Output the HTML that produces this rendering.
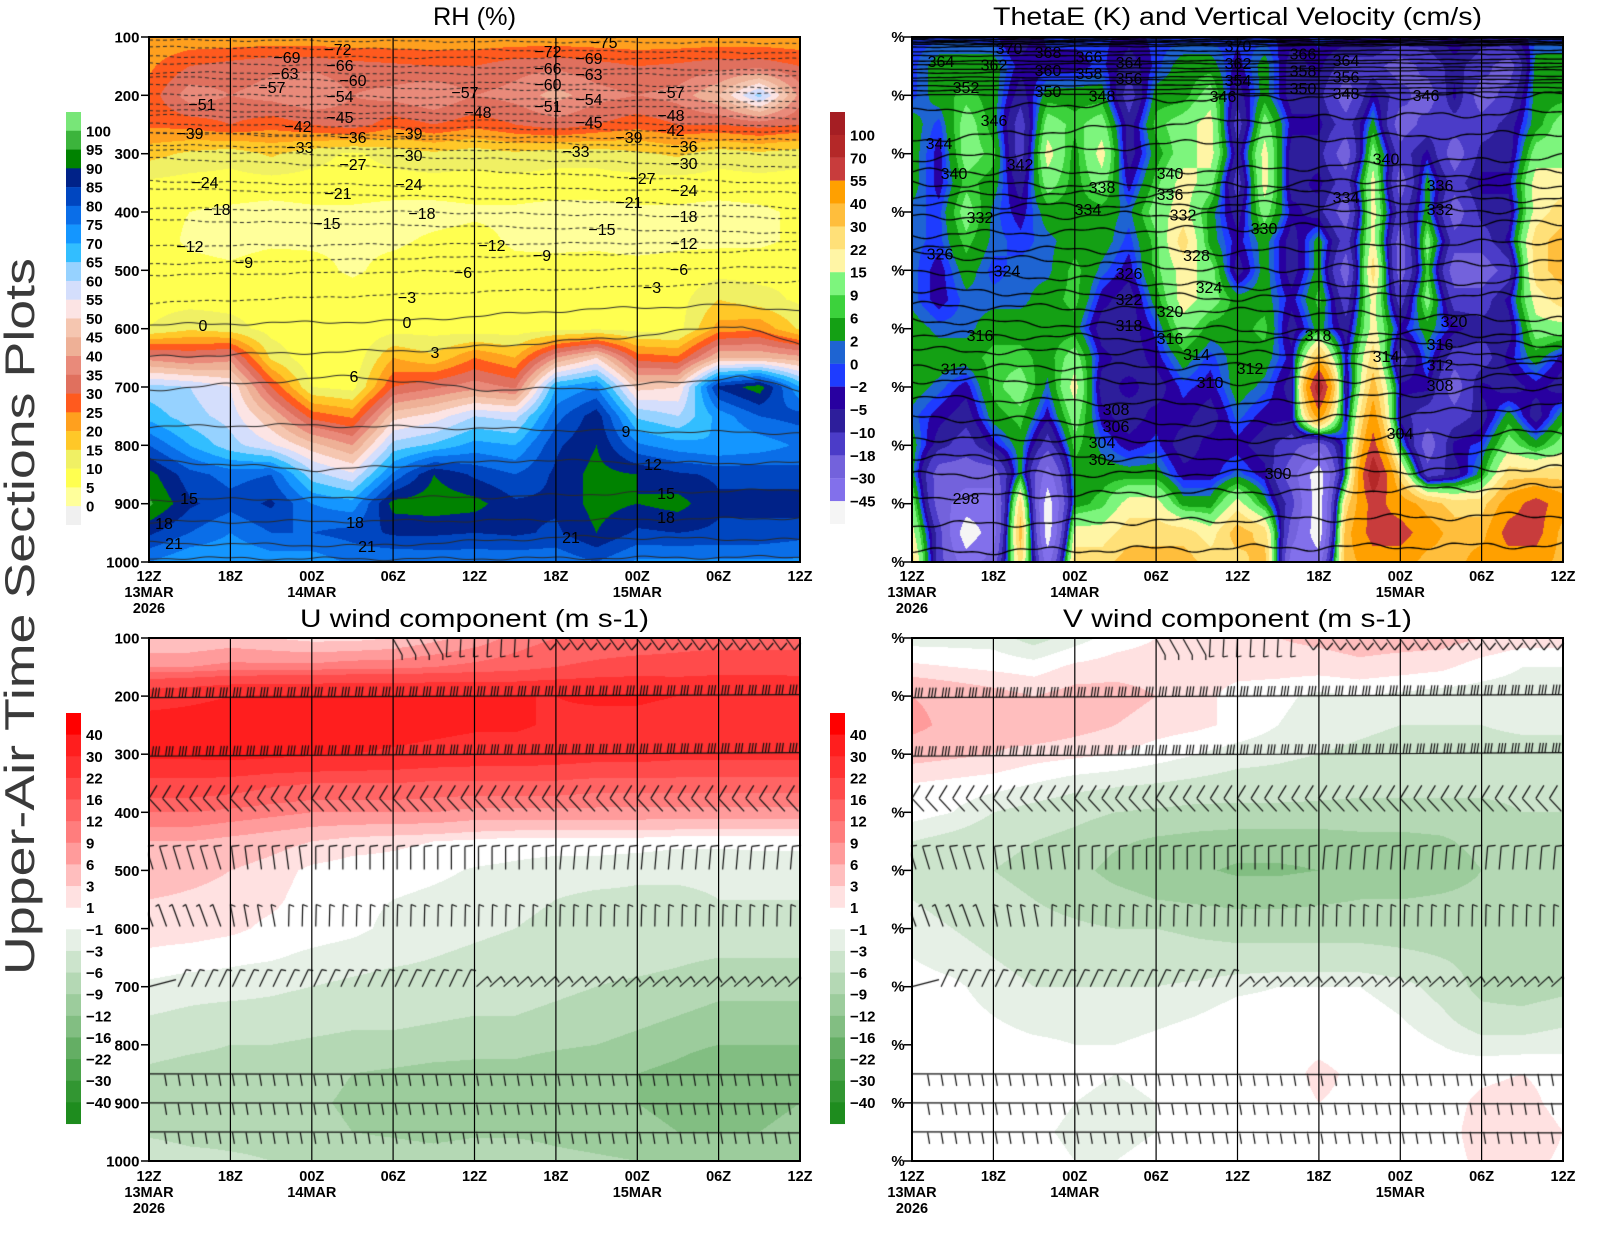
<!DOCTYPE html>
<html><head><meta charset="utf-8">
<style>
html,body{margin:0;padding:0;background:#fff;}
#wrap{position:relative;width:1600px;height:1236px;overflow:hidden;background:#fff;}
#wrap svg,#wrap canvas{position:absolute;left:0;top:0;}
text{font-family:"Liberation Sans",Arial,sans-serif;}
.ax{font-size:15px;font-weight:bold;fill:#000;}
.tl{font-size:14.5px;font-weight:bold;fill:#000;text-anchor:middle;}
.cb{font-size:15px;font-weight:bold;fill:#000;}
.cl{font-size:16px;fill:#000;text-anchor:middle;}
.ti{font-size:25px;fill:#000;text-anchor:middle;}
</style></head><body>
<div id="wrap">
<svg width="1600" height="1236">
<rect x="149" y="37" width="651" height="25" fill="#ffa01e"/>
<rect x="149" y="62" width="651" height="60" fill="#e98a7a"/>
<rect x="149" y="122" width="651" height="30" fill="#ffa01e"/>
<rect x="149" y="152" width="651" height="170" fill="#ffff70"/>
<rect x="149" y="322" width="651" height="40" fill="#ff8040"/>
<rect x="149" y="362" width="651" height="40" fill="#f0c0c0"/>
<rect x="149" y="402" width="651" height="160" fill="#0a6ee8"/>
<rect x="912" y="37" width="651" height="455" fill="#1e64d2"/>
<rect x="912" y="492" width="651" height="70" fill="#ffe078"/>
<rect x="149" y="638" width="651" height="60" fill="#ff7d7d"/>
<rect x="149" y="698" width="651" height="100" fill="#ff1e1e"/>
<rect x="149" y="798" width="651" height="82" fill="#ff9b9b"/>
<rect x="149" y="970" width="651" height="191" fill="#b4d8b4"/>
<rect x="912" y="638" width="651" height="122" fill="#ffe1e1"/>
<rect x="912" y="760" width="651" height="240" fill="#b4d8b4"/>
</svg>
<canvas id="cv" width="1600" height="1236"></canvas>
<svg width="1600" height="1236">
<text class="ti" x="474.5" y="25" textLength="83" lengthAdjust="spacingAndGlyphs">RH (%)</text>
<text class="ti" x="1237.5" y="25" textLength="489" lengthAdjust="spacingAndGlyphs">ThetaE (K) and Vertical Velocity (cm/s)</text>
<text class="ti" x="474.5" y="627" textLength="349" lengthAdjust="spacingAndGlyphs">U wind component (m s-1)</text>
<text class="ti" x="1237.5" y="627" textLength="349" lengthAdjust="spacingAndGlyphs">V wind component (m s-1)</text>
<text transform="translate(34,616.5) rotate(-90)" text-anchor="middle" font-size="42" fill="#3a3a3a" textLength="717" lengthAdjust="spacingAndGlyphs">Upper-Air Time Sections Plots</text>

<g stroke="#000" stroke-width="1.2">
<line x1="230.4" y1="37" x2="230.4" y2="562"/><line x1="311.8" y1="37" x2="311.8" y2="562"/><line x1="393.1" y1="37" x2="393.1" y2="562"/><line x1="474.5" y1="37" x2="474.5" y2="562"/><line x1="555.9" y1="37" x2="555.9" y2="562"/><line x1="637.3" y1="37" x2="637.3" y2="562"/><line x1="718.6" y1="37" x2="718.6" y2="562"/>
<line x1="993.4" y1="37" x2="993.4" y2="562"/><line x1="1074.8" y1="37" x2="1074.8" y2="562"/><line x1="1156.1" y1="37" x2="1156.1" y2="562"/><line x1="1237.5" y1="37" x2="1237.5" y2="562"/><line x1="1318.9" y1="37" x2="1318.9" y2="562"/><line x1="1400.3" y1="37" x2="1400.3" y2="562"/><line x1="1481.6" y1="37" x2="1481.6" y2="562"/>
<line x1="230.4" y1="638" x2="230.4" y2="1161"/><line x1="311.8" y1="638" x2="311.8" y2="1161"/><line x1="393.1" y1="638" x2="393.1" y2="1161"/><line x1="474.5" y1="638" x2="474.5" y2="1161"/><line x1="555.9" y1="638" x2="555.9" y2="1161"/><line x1="637.3" y1="638" x2="637.3" y2="1161"/><line x1="718.6" y1="638" x2="718.6" y2="1161"/>
<line x1="993.4" y1="638" x2="993.4" y2="1161"/><line x1="1074.8" y1="638" x2="1074.8" y2="1161"/><line x1="1156.1" y1="638" x2="1156.1" y2="1161"/><line x1="1237.5" y1="638" x2="1237.5" y2="1161"/><line x1="1318.9" y1="638" x2="1318.9" y2="1161"/><line x1="1400.3" y1="638" x2="1400.3" y2="1161"/><line x1="1481.6" y1="638" x2="1481.6" y2="1161"/>
</g>
<g fill="none" stroke="#000" stroke-width="2">
<rect x="149" y="37" width="651" height="525"/>
<rect x="912" y="37" width="651" height="525"/>
<rect x="149" y="638" width="651" height="523"/>
<rect x="912" y="638" width="651" height="523"/>
</g>
<g stroke="#000" stroke-width="1.5">
<line x1="141" y1="37" x2="149" y2="37"/><line x1="141" y1="95.3" x2="149" y2="95.3"/><line x1="141" y1="153.7" x2="149" y2="153.7"/><line x1="141" y1="212" x2="149" y2="212"/><line x1="141" y1="270.3" x2="149" y2="270.3"/><line x1="141" y1="328.7" x2="149" y2="328.7"/><line x1="141" y1="387" x2="149" y2="387"/><line x1="141" y1="445.3" x2="149" y2="445.3"/><line x1="141" y1="503.7" x2="149" y2="503.7"/><line x1="141" y1="562" x2="149" y2="562"/>
<line x1="904" y1="37" x2="912" y2="37"/><line x1="904" y1="95.3" x2="912" y2="95.3"/><line x1="904" y1="153.7" x2="912" y2="153.7"/><line x1="904" y1="212" x2="912" y2="212"/><line x1="904" y1="270.3" x2="912" y2="270.3"/><line x1="904" y1="328.7" x2="912" y2="328.7"/><line x1="904" y1="387" x2="912" y2="387"/><line x1="904" y1="445.3" x2="912" y2="445.3"/><line x1="904" y1="503.7" x2="912" y2="503.7"/><line x1="904" y1="562" x2="912" y2="562"/>
<line x1="141" y1="638" x2="149" y2="638"/><line x1="141" y1="696.1" x2="149" y2="696.1"/><line x1="141" y1="754.2" x2="149" y2="754.2"/><line x1="141" y1="812.3" x2="149" y2="812.3"/><line x1="141" y1="870.4" x2="149" y2="870.4"/><line x1="141" y1="928.6" x2="149" y2="928.6"/><line x1="141" y1="986.7" x2="149" y2="986.7"/><line x1="141" y1="1044.8" x2="149" y2="1044.8"/><line x1="141" y1="1102.9" x2="149" y2="1102.9"/><line x1="141" y1="1161" x2="149" y2="1161"/>
<line x1="904" y1="638" x2="912" y2="638"/><line x1="904" y1="696.1" x2="912" y2="696.1"/><line x1="904" y1="754.2" x2="912" y2="754.2"/><line x1="904" y1="812.3" x2="912" y2="812.3"/><line x1="904" y1="870.4" x2="912" y2="870.4"/><line x1="904" y1="928.6" x2="912" y2="928.6"/><line x1="904" y1="986.7" x2="912" y2="986.7"/><line x1="904" y1="1044.8" x2="912" y2="1044.8"/><line x1="904" y1="1102.9" x2="912" y2="1102.9"/><line x1="904" y1="1161" x2="912" y2="1161"/>
</g>
<g class="ax" text-anchor="end">
<text x="139.5" y="42.5">100</text><text x="139.5" y="100.8">200</text><text x="139.5" y="159.2">300</text><text x="139.5" y="217.5">400</text><text x="139.5" y="275.8">500</text><text x="139.5" y="334.2">600</text><text x="139.5" y="392.5">700</text><text x="139.5" y="450.8">800</text><text x="139.5" y="509.2">900</text><text x="139.5" y="567.5">1000</text>
<text x="139.5" y="643.5">100</text><text x="139.5" y="701.6">200</text><text x="139.5" y="759.7">300</text><text x="139.5" y="817.8">400</text><text x="139.5" y="875.9">500</text><text x="139.5" y="934.1">600</text><text x="139.5" y="992.2">700</text><text x="139.5" y="1050.3">800</text><text x="139.5" y="1108.4">900</text><text x="139.5" y="1166.5">1000</text>
</g>
<g class="ax" text-anchor="middle" font-size="13">
<text x="898" y="42">%</text><text x="898" y="100.3">%</text><text x="898" y="158.7">%</text><text x="898" y="217">%</text><text x="898" y="275.3">%</text><text x="898" y="333.7">%</text><text x="898" y="392">%</text><text x="898" y="450.3">%</text><text x="898" y="508.7">%</text><text x="898" y="567">%</text>
<text x="898" y="643">%</text><text x="898" y="701.1">%</text><text x="898" y="759.2">%</text><text x="898" y="817.3">%</text><text x="898" y="875.4">%</text><text x="898" y="933.6">%</text><text x="898" y="991.7">%</text><text x="898" y="1049.8">%</text><text x="898" y="1107.9">%</text><text x="898" y="1166">%</text>
</g>
<g class="tl">
<text x="149" y="581">12Z</text><text x="230.4" y="581">18Z</text><text x="311.8" y="581">00Z</text><text x="393.1" y="581">06Z</text><text x="474.5" y="581">12Z</text><text x="555.9" y="581">18Z</text><text x="637.3" y="581">00Z</text><text x="718.6" y="581">06Z</text><text x="800" y="581">12Z</text>
<text x="149" y="597">13MAR</text><text x="149" y="613">2026</text><text x="311.8" y="597">14MAR</text><text x="637.3" y="597">15MAR</text>
<text x="912" y="581">12Z</text><text x="993.4" y="581">18Z</text><text x="1074.8" y="581">00Z</text><text x="1156.1" y="581">06Z</text><text x="1237.5" y="581">12Z</text><text x="1318.9" y="581">18Z</text><text x="1400.3" y="581">00Z</text><text x="1481.6" y="581">06Z</text><text x="1563" y="581">12Z</text>
<text x="912" y="597">13MAR</text><text x="912" y="613">2026</text><text x="1074.8" y="597">14MAR</text><text x="1400.3" y="597">15MAR</text>
<text x="149" y="1181">12Z</text><text x="230.4" y="1181">18Z</text><text x="311.8" y="1181">00Z</text><text x="393.1" y="1181">06Z</text><text x="474.5" y="1181">12Z</text><text x="555.9" y="1181">18Z</text><text x="637.3" y="1181">00Z</text><text x="718.6" y="1181">06Z</text><text x="800" y="1181">12Z</text>
<text x="149" y="1197">13MAR</text><text x="149" y="1213">2026</text><text x="311.8" y="1197">14MAR</text><text x="637.3" y="1197">15MAR</text>
<text x="912" y="1181">12Z</text><text x="993.4" y="1181">18Z</text><text x="1074.8" y="1181">00Z</text><text x="1156.1" y="1181">06Z</text><text x="1237.5" y="1181">12Z</text><text x="1318.9" y="1181">18Z</text><text x="1400.3" y="1181">00Z</text><text x="1481.6" y="1181">06Z</text><text x="1563" y="1181">12Z</text>
<text x="912" y="1197">13MAR</text><text x="912" y="1213">2026</text><text x="1074.8" y="1197">14MAR</text><text x="1400.3" y="1197">15MAR</text>
</g>

<g>
<rect x="66" y="112" width="15" height="19" fill="#78e678"/>
<rect x="66" y="130.77" width="15" height="19" fill="#3cb43c"/>
<rect x="66" y="149.54" width="15" height="19" fill="#008200"/>
<rect x="66" y="168.31" width="15" height="19" fill="#002288"/>
<rect x="66" y="187.08" width="15" height="19" fill="#0046c0"/>
<rect x="66" y="205.85" width="15" height="19" fill="#0a6ee8"/>
<rect x="66" y="224.62" width="15" height="19" fill="#1496ff"/>
<rect x="66" y="243.39" width="15" height="19" fill="#32beff"/>
<rect x="66" y="262.16" width="15" height="19" fill="#96d2ff"/>
<rect x="66" y="280.93" width="15" height="19" fill="#d4defc"/>
<rect x="66" y="299.7" width="15" height="19" fill="#fce4e4"/>
<rect x="66" y="318.47" width="15" height="19" fill="#f5c6b0"/>
<rect x="66" y="337.24" width="15" height="19" fill="#eeb096"/>
<rect x="66" y="356.01" width="15" height="19" fill="#e98a7a"/>
<rect x="66" y="374.78" width="15" height="19" fill="#e0705e"/>
<rect x="66" y="393.55" width="15" height="19" fill="#ff5a1e"/>
<rect x="66" y="412.32" width="15" height="19" fill="#ffa01e"/>
<rect x="66" y="431.09" width="15" height="19" fill="#ffc828"/>
<rect x="66" y="449.86" width="15" height="19" fill="#f0f064"/>
<rect x="66" y="468.63" width="15" height="19" fill="#ffff50"/>
<rect x="66" y="487.4" width="15" height="19" fill="#ffff9b"/>
<rect x="66" y="506.17" width="15" height="18.8" fill="#f0f0f0"/>
</g>
<g class="cb">
<text x="86" y="136.3">100</text><text x="86" y="155">95</text><text x="86" y="173.8">90</text><text x="86" y="192.6">85</text><text x="86" y="211.4">80</text><text x="86" y="230.1">75</text><text x="86" y="248.9">70</text><text x="86" y="267.7">65</text><text x="86" y="286.4">60</text><text x="86" y="305.2">55</text><text x="86" y="324">50</text><text x="86" y="342.7">45</text><text x="86" y="361.5">40</text><text x="86" y="380.3">35</text><text x="86" y="399.1">30</text><text x="86" y="417.8">25</text><text x="86" y="436.6">20</text><text x="86" y="455.4">15</text><text x="86" y="474.1">10</text><text x="86" y="492.9">5</text><text x="86" y="511.7">0</text>
</g>

<g>
<rect x="830" y="112" width="15" height="23" fill="#a51e23"/>
<rect x="830" y="134.89" width="15" height="23" fill="#b42828"/>
<rect x="830" y="157.78" width="15" height="23" fill="#c83c3c"/>
<rect x="830" y="180.67" width="15" height="23" fill="#ffa000"/>
<rect x="830" y="203.56" width="15" height="23" fill="#ffbe3c"/>
<rect x="830" y="226.45" width="15" height="23" fill="#ffe078"/>
<rect x="830" y="249.34" width="15" height="23" fill="#fff5a5"/>
<rect x="830" y="272.23" width="15" height="23" fill="#7df57d"/>
<rect x="830" y="295.12" width="15" height="23" fill="#3cd23c"/>
<rect x="830" y="318.01" width="15" height="23" fill="#14a014"/>
<rect x="830" y="340.9" width="15" height="23" fill="#1e64d2"/>
<rect x="830" y="363.79" width="15" height="23" fill="#1e3cff"/>
<rect x="830" y="386.68" width="15" height="23" fill="#2800a0"/>
<rect x="830" y="409.57" width="15" height="23" fill="#2d1e9b"/>
<rect x="830" y="432.46" width="15" height="23" fill="#4b3cc8"/>
<rect x="830" y="455.35" width="15" height="23" fill="#7362dc"/>
<rect x="830" y="478.24" width="15" height="23" fill="#8270eb"/>
<rect x="830" y="501.13" width="15" height="22.9" fill="#f5f5f5"/>
</g>
<g class="cb">
<text x="850" y="140.4">100</text><text x="850" y="163.3">70</text><text x="850" y="186.2">55</text><text x="850" y="209.1">40</text><text x="850" y="232">30</text><text x="850" y="254.8">22</text><text x="850" y="277.7">15</text><text x="850" y="300.6">9</text><text x="850" y="323.5">6</text><text x="850" y="346.4">2</text><text x="850" y="369.3">0</text><text x="850" y="392.2">−2</text><text x="850" y="415.1">−5</text><text x="850" y="438">−10</text><text x="850" y="460.9">−18</text><text x="850" y="483.7">−30</text><text x="850" y="506.6">−45</text>
</g>

<g>
<rect x="66" y="713" width="15" height="22" fill="#ff0000"/>
<rect x="66" y="734.63" width="15" height="22" fill="#ff1e1e"/>
<rect x="66" y="756.26" width="15" height="22" fill="#ff3232"/>
<rect x="66" y="777.89" width="15" height="22" fill="#ff4b4b"/>
<rect x="66" y="799.52" width="15" height="22" fill="#ff6464"/>
<rect x="66" y="821.15" width="15" height="22" fill="#ff7d7d"/>
<rect x="66" y="842.78" width="15" height="22" fill="#ff9b9b"/>
<rect x="66" y="864.41" width="15" height="22" fill="#ffbebe"/>
<rect x="66" y="886.04" width="15" height="21.7" fill="#ffe1e1"/>
<rect x="66" y="929.3" width="15" height="22" fill="#e6f0e6"/>
<rect x="66" y="950.93" width="15" height="22" fill="#cce4cc"/>
<rect x="66" y="972.56" width="15" height="22" fill="#b4d8b4"/>
<rect x="66" y="994.19" width="15" height="22" fill="#9ccc9c"/>
<rect x="66" y="1015.82" width="15" height="22" fill="#82be82"/>
<rect x="66" y="1037.45" width="15" height="22" fill="#64ae64"/>
<rect x="66" y="1059.08" width="15" height="22" fill="#4ba34b"/>
<rect x="66" y="1080.71" width="15" height="22" fill="#329632"/>
<rect x="66" y="1102.34" width="15" height="21.7" fill="#1e8c1e"/>
</g>
<g>
<rect x="830" y="713" width="15" height="22" fill="#ff0000"/>
<rect x="830" y="734.63" width="15" height="22" fill="#ff1e1e"/>
<rect x="830" y="756.26" width="15" height="22" fill="#ff3232"/>
<rect x="830" y="777.89" width="15" height="22" fill="#ff4b4b"/>
<rect x="830" y="799.52" width="15" height="22" fill="#ff6464"/>
<rect x="830" y="821.15" width="15" height="22" fill="#ff7d7d"/>
<rect x="830" y="842.78" width="15" height="22" fill="#ff9b9b"/>
<rect x="830" y="864.41" width="15" height="22" fill="#ffbebe"/>
<rect x="830" y="886.04" width="15" height="21.7" fill="#ffe1e1"/>
<rect x="830" y="929.3" width="15" height="22" fill="#e6f0e6"/>
<rect x="830" y="950.93" width="15" height="22" fill="#cce4cc"/>
<rect x="830" y="972.56" width="15" height="22" fill="#b4d8b4"/>
<rect x="830" y="994.19" width="15" height="22" fill="#9ccc9c"/>
<rect x="830" y="1015.82" width="15" height="22" fill="#82be82"/>
<rect x="830" y="1037.45" width="15" height="22" fill="#64ae64"/>
<rect x="830" y="1059.08" width="15" height="22" fill="#4ba34b"/>
<rect x="830" y="1080.71" width="15" height="22" fill="#329632"/>
<rect x="830" y="1102.34" width="15" height="21.7" fill="#1e8c1e"/>
</g>
<g class="cb">
<text x="86" y="740.1">40</text><text x="86" y="761.8">30</text><text x="86" y="783.4">22</text><text x="86" y="805">16</text><text x="86" y="826.7">12</text><text x="86" y="848.3">9</text><text x="86" y="869.9">6</text><text x="86" y="891.5">3</text><text x="86" y="913.2">1</text><text x="86" y="934.8">−1</text><text x="86" y="956.4">−3</text><text x="86" y="978.1">−6</text><text x="86" y="999.7">−9</text><text x="86" y="1021.3">−12</text><text x="86" y="1043">−16</text><text x="86" y="1064.6">−22</text><text x="86" y="1086.2">−30</text><text x="86" y="1107.8">−40</text>
<text x="850" y="740.1">40</text><text x="850" y="761.8">30</text><text x="850" y="783.4">22</text><text x="850" y="805">16</text><text x="850" y="826.7">12</text><text x="850" y="848.3">9</text><text x="850" y="869.9">6</text><text x="850" y="891.5">3</text><text x="850" y="913.2">1</text><text x="850" y="934.8">−1</text><text x="850" y="956.4">−3</text><text x="850" y="978.1">−6</text><text x="850" y="999.7">−9</text><text x="850" y="1021.3">−12</text><text x="850" y="1043">−16</text><text x="850" y="1064.6">−22</text><text x="850" y="1086.2">−30</text><text x="850" y="1107.8">−40</text>
</g>

<g class="cl">
<text x="604" y="48">−75</text><text x="338" y="55">−72</text><text x="548" y="57">−72</text><text x="287" y="63">−69</text><text x="589" y="64">−69</text><text x="340" y="71">−66</text><text x="548" y="74">−66</text><text x="285" y="79">−63</text><text x="589" y="80">−63</text><text x="353" y="86">−60</text><text x="548" y="90">−60</text><text x="272" y="93">−57</text><text x="465" y="98">−57</text><text x="671" y="98">−57</text><text x="340" y="102">−54</text><text x="589" y="105">−54</text><text x="202" y="110">−51</text><text x="548" y="112">−51</text><text x="478" y="118">−48</text><text x="671" y="121">−48</text><text x="340" y="123">−45</text><text x="589" y="128">−45</text><text x="298" y="132">−42</text><text x="671" y="136">−42</text><text x="190" y="139">−39</text><text x="409" y="139">−39</text><text x="629" y="143">−39</text><text x="353" y="143">−36</text><text x="684" y="152">−36</text><text x="300" y="153">−33</text><text x="576" y="157">−33</text><text x="409" y="161">−30</text><text x="684" y="169">−30</text><text x="353" y="170">−27</text><text x="642" y="184">−27</text><text x="205" y="188">−24</text><text x="409" y="190">−24</text><text x="684" y="196">−24</text><text x="338" y="199">−21</text><text x="629" y="208">−21</text><text x="217" y="215">−18</text><text x="422" y="219">−18</text><text x="684" y="222">−18</text><text x="327" y="229">−15</text><text x="602" y="235">−15</text><text x="190" y="252">−12</text><text x="492" y="251">−12</text><text x="684" y="249">−12</text><text x="244" y="268">−9</text><text x="542" y="261">−9</text><text x="463" y="278">−6</text><text x="679" y="275">−6</text><text x="407" y="303">−3</text><text x="652" y="293">−3</text>
<text x="203" y="331">0</text><text x="407" y="328">0</text><text x="435" y="358">3</text><text x="354" y="382">6</text><text x="626" y="437">9</text><text x="653" y="470">12</text><text x="189" y="504">15</text><text x="666" y="499">15</text><text x="164" y="529">18</text><text x="355" y="528">18</text><text x="666" y="523">18</text><text x="174" y="549">21</text><text x="367" y="552">21</text><text x="571" y="543">21</text>
</g>
<g class="cl">
<text x="941" y="67">364</text><text x="1009" y="54">370</text><text x="1048" y="58">368</text><text x="994" y="70.5">362</text><text x="1048" y="76">360</text><text x="1089" y="62.5">366</text><text x="1089" y="79">358</text><text x="1129" y="68">364</text><text x="1129" y="84">356</text><text x="966" y="93">352</text><text x="1048" y="97">350</text><text x="1102" y="101.5">348</text><text x="1223" y="102">346</text><text x="1238" y="51.5">370</text><text x="1238" y="69">362</text><text x="1238" y="86">354</text><text x="1303" y="59.4">366</text><text x="1303" y="76.7">358</text><text x="1303" y="94">350</text><text x="1346" y="66">364</text><text x="1346" y="82.5">356</text><text x="1346" y="99">348</text><text x="1426" y="101">346</text><text x="994" y="126">346</text><text x="939" y="149">344</text><text x="1020" y="170">342</text><text x="954" y="179">340</text><text x="1102" y="193">338</text><text x="1170" y="179">340</text><text x="1170" y="200">336</text><text x="1088" y="215">334</text><text x="980" y="223">332</text><text x="1183" y="220.5">332</text><text x="1264" y="234">330</text><text x="1386" y="164.6">340</text><text x="1346" y="203">334</text><text x="1440" y="191">336</text><text x="1440" y="215">332</text><text x="940" y="259.5">326</text><text x="1007" y="276.7">324</text><text x="1196.5" y="261">328</text><text x="1129" y="279">326</text><text x="1209" y="293">324</text><text x="1129" y="305">322</text><text x="1170" y="317">320</text><text x="1129" y="331">318</text><text x="980" y="341">316</text><text x="1170" y="344">316</text><text x="1196.5" y="360">314</text><text x="954" y="374.6">312</text><text x="1250" y="374">312</text><text x="1210" y="388">310</text><text x="1318" y="341">318</text><text x="1454" y="327">320</text><text x="1440" y="350">316</text><text x="1386" y="362">314</text><text x="1440" y="370.5">312</text><text x="1440" y="391">308</text><text x="1116" y="415">308</text><text x="1116" y="432">306</text><text x="1102" y="448">304</text><text x="1102" y="465">302</text><text x="1400" y="439">304</text><text x="1278" y="479">300</text><text x="966" y="504">298</text>
</g>
</svg>
</div>
<script>
(function(){
var cv=document.getElementById('cv'),ctx=cv.getContext('2d');
function hex(c){return [parseInt(c.slice(1,3),16),parseInt(c.slice(3,5),16),parseInt(c.slice(5,7),16)];}
function field(x0,y0,x1,y1,G,levels,colors){
  var w=Math.round(x1-x0),h=Math.round(y1-y0);
  var img=ctx.createImageData(w,h),d=img.data;
  var nr=G.length,nc=G[0].length,C=colors.map(hex),nl=levels.length;
  for(var j=0;j<h;j++){
    var v=(j+0.5)/h*(nr-1),r=Math.min(nr-2,Math.floor(v)),fv=v-r,A=G[r],B=G[r+1];
    for(var i=0;i<w;i++){
      var u=(i+0.5)/w*(nc-1),c=Math.min(nc-2,Math.floor(u)),fu=u-c;
      var val=(A[c]*(1-fu)+A[c+1]*fu)*(1-fv)+(B[c]*(1-fu)+B[c+1]*fu)*fv;
      var k=0;while(k<nl&&val>=levels[k])k++;
      var col=C[k],o=(j*w+i)*4;
      d[o]=col[0];d[o+1]=col[1];d[o+2]=col[2];d[o+3]=255;
    }
  }
  ctx.putImageData(img,Math.round(x0),Math.round(y0));
}
var RHL=[0,5,10,15,20,25,30,35,40,45,50,55,60,65,70,75,80,85,90,95,100];
var RHC=['#f0f0f0','#ffff9b','#ffff50','#f0f064','#ffc828','#ffa01e','#ff5a1e','#e0705e','#e98a7a','#eeb096','#f5c6b0','#fce4e4','#d4defc','#96d2ff','#32beff','#1496ff','#0a6ee8','#0046c0','#002288','#008200','#3cb43c','#78e678'];
var RH=[
[21,21,21,21,21,21,21,21,21,21,21,21,21,21,21,21,21],
[24,30,32,34,34,32,31,30,30,33,34,32,30,31,33,33,30],
[27,38,35,37,40,35,37,40,35,37,42,37,35,37,45,62,38],
[26,27,30,27,30,33,27,30,27,30,33,30,27,30,30,32,30],
[17,14,12,16,12,9,12,14,12,14,12,12,14,16,12,14,12],
[9,8,8,8,8,8,8,8,8,8,8,8,8,8,8,8,8],
[7,5,4,3,4,4,3,3,4,4,3,3,4,4,3,4,6],
[8,4,3,4,4,4,4,6,7,4,3,4,3,4,4,4,6],
[9,7,6,8,7,4,7,8,8,7,8,7,7,7,8,8,9],
[8,8,8,8,8,8,8,8,8,8,8,8,8,8,15,12,9],
[10,14,12,8,6,6,8,8,7,7,8,9,8,8,22,24,14],
[38,35,38,14,6,6,20,16,25,20,40,50,28,26,45,45,42],
[62,60,55,30,10,8,30,34,38,34,70,75,48,50,86,93,70],
[68,62,58,45,28,24,48,52,60,58,78,88,64,60,72,80,82],
[80,70,62,56,47,40,62,66,72,70,84,90,76,72,70,72,76],
[92,82,78,80,62,56,76,90,84,80,86,92,90,86,84,84,82],
[96,86,82,86,75,72,92,93,92,86,86,92,90,92,86,86,88],
[86,80,75,80,80,82,86,86,85,86,84,90,84,85,84,84,82],
[75,70,70,72,72,76,75,76,76,76,76,80,74,74,74,74,74]];
field(149,37,800,562,RH,RHL,RHC);
var TL=[-45,-30,-18,-10,-5,-2,0,2,6,9,15,22,30,40,55,70,100];
var TC=['#f5f5f5','#8270eb','#7362dc','#4b3cc8','#2d1e9b','#2800a0','#1e3cff','#1e64d2','#14a014','#3cd23c','#7df57d','#fff5a5','#ffe078','#ffbe3c','#ffa000','#c83c3c','#b42828','#a51e23'];
var MP={W:-55,L:-37,P:-24,M:-14,D:-7.5,N:-3.5,B:-1,b:1,G:4,g:7.5,l:12,y:18,Y:26,O:35,o:47,R:62,S:85,T:120};
var TS=["BBBBDBBBNBBBBBNBBBNDBDNBB","BGGGNNNBDBGGNGDNMMPMDMPGG","BGgGDGGGMGGlDGDDPNMPNPMGG","GBlGMlglDglyMlNNMGPMMMDGl","GNlgMyGyDGlyDyDDPlMNPDDll","GNgGDlGlNgylMyDNMyPGMNNyy","bBlbNGGGblyGDlNDPyMGPDDyY","bBgbBbGGBgYGNGDGMyPlMMNYO","bNGBbbgbNgylDGDGPYPgPPMYO","bNbbbGgNDGylGGNgMyMlMMNyY","GbbGGGGDDBlGGgDGDyNGNDDll","GGGggGlNDNGBGGNONYMbMMNGN","GbNglbyDNDBNGbDSDONNPNDND","bNDGgNlNDNNDbNNoNoDMMDGDG","GDMNGMgbNBDNNDMPbRGPNBlGl","GPPPGLGGGGNNbNPWGSYMDGYYY","lPLLYWGgyyGGyGMWYRoOYYoRo","yMWLOWyyYYYyOYPWORRoOORRO","YMLPYLYYOOOYYOLLOooOOoooO"];
var TG=TS.map(function(s){return s.split('').map(function(ch){return MP[ch];});});
field(912,37,1563,562,TG,TL,TC);
var WL=[-40,-30,-22,-16,-12,-9,-6,-3,-1,1,3,6,9,12,16,22,30,40];
var WC=['#1e8c1e','#329632','#4ba34b','#64ae64','#82be82','#9ccc9c','#b4d8b4','#cce4cc','#e6f0e6','#ffffff','#ffe1e1','#ffbebe','#ff9b9b','#ff7d7d','#ff6464','#ff4b4b','#ff3232','#ff1e1e','#ff0000'];
var U=[
[3,3,4,3,2,2,3,5,7,10,12,13,13,14,14,14,14],
[9,9,10,10,10,11,11,12,13,14,16,17,18,18,19,19,19],
[26,28,30,31,31,31,31,31,30,30,30,31,31,30,30,30,29],
[34,34,35,35,35,34,33,32,31,31,29,28,28,27,27,27,27],
[32,32,33,32,31,30,29,28,27,27,26,25,25,24,24,24,24],
[20,20,19,17,16,16,16,15,15,15,15,14,14,14,14,14,14],
[12,12,11,10,9,9,9,9,8,8,8,8,8,8,8,8,8],
[6,6,5,4,3,2,1.5,1,0.5,0,0,0,0,-0.5,-0.5,-0.5,-0.5],
[5,4,3,2,0.5,0,0,-0.5,-1.2,-1.5,-2,-2,-2.5,-2.5,-2.5,-2,-2],
[3,2.5,2,1.5,0,-0.5,-1,-1.5,-2,-2.5,-3,-3.5,-3.5,-3.5,-3,-3,-3],
[2,2,1.5,0.5,0,-0.5,-1.5,-2,-2.5,-3,-3.5,-4,-4,-4,-4,-4,-4],
[0.5,0,-0.5,-0.8,-1.5,-2,-2.5,-3,-3.5,-4,-4.5,-5,-5,-5.5,-6,-6,-6],
[-1.5,-2,-2,-2.5,-3,-3.5,-4,-4,-4.5,-5,-5.5,-6,-6.5,-7,-8,-8,-8],
[-3,-3.5,-4,-4,-4.5,-5,-5,-5.5,-6,-6,-6.5,-7,-8,-9,-10,-10,-10],
[-5,-5.5,-6,-6,-6.5,-7,-7,-7.5,-8,-8,-8.5,-9,-10,-11,-12,-12,-12],
[-6.5,-7,-7,-7.5,-8,-9,-9.5,-10,-10,-10,-11,-12,-12,-13,-15,-14,-13],
[-6.5,-7,-7,-7.5,-8.5,-9.5,-10,-10,-10,-10,-11,-11,-12,-13,-14,-13,-12],
[-6.5,-7,-7,-7,-8,-9,-9.5,-10,-9.5,-9.5,-10,-10.5,-11,-12,-12,-12,-11],
[-4,-5,-5.5,-6,-6.5,-7,-7,-7.5,-7,-7,-8,-8.5,-9,-10,-11,-11,-10]];
field(149,638,800,1161,U,WL,WC);
var V=[
[-2,-2,-2,-4,-2,0,1,2,2,3,3.5,4,4,4,3,2,2],
[1.5,1,0.5,0,1.5,2,2,2,2,2,2,2.5,2,1.5,0,-1,-1],
[6,5,4,3,4,4,3,2,0,-0.5,-1.5,-1,-1.5,-2,-2,-2,-2],
[7,5,4,5,4,3,2,1.5,0.5,-1,-2,-2.5,-3,-3,-3,-2.5,-2.5],
[4,3.5,3,2,1.5,1,0,-1,-2,-2.5,-3,-3.5,-4,-4,-4,-4,-4],
[1,0.5,0,-1,-2,-2.5,-3,-3.5,-4,-4,-4.5,-5,-5,-5,-5,-5,-5],
[0,-1,-3,-4,-5,-6,-6.5,-7,-7,-7,-7,-7,-7,-7,-7,-6,-6],
[-3,-4,-5,-6,-7,-8.5,-9.5,-10,-10.5,-10.5,-10.5,-10,-10,-9.5,-8,-7,-7],
[-4,-5,-6,-7,-8,-10,-11,-11.5,-12.5,-12.5,-12,-11,-12,-11,-9,-8,-7.5],
[-3,-4,-5,-6,-7,-8,-9,-9.5,-10,-10,-9.5,-9,-9,-8.5,-8,-7,-7],
[-2,-3,-4,-5,-5.5,-6,-6,-6.5,-7,-7,-7,-7,-7,-7,-6.5,-6.5,-6],
[-1,-2,-3,-4,-4,-4.5,-4.5,-5,-5,-5,-5,-5,-5.5,-6,-7,-7.5,-7],
[0,-0.5,-2,-3,-3,-3,-3,-2.5,-1.5,-1,-1,-1,-2,-4,-7,-8,-7],
[0.5,0,-1,-2,-2,-2,-1.5,-1,0,0,0,0,-1,-2.5,-5,-5,-4],
[0.5,0,0,-0.5,-1,-1,-0.5,0,0,0.5,0.5,0,0,-1,-2,-2,-1.5],
[0,0.5,0,0,-0.5,-1,-0.5,0,0,0,1.5,0.5,0,0,0.5,1,0],
[0.5,0.5,0,0,-1,-1.5,-1,0,0,0,1,0.5,0,0,1.5,2,0],
[0,0,0,-0.5,-1.5,-1.5,-1,-0.5,0,0,0.5,0,-0.5,0,2,3,1],
[0,0,0,0,-1,-1,-0.5,0,0,0,0.5,0,0,0,1.5,2,0.5]];
field(912,638,1563,1161,V,WL,WC);

function poly(anc,amp,seed,dash){
  ctx.beginPath();ctx.setLineDash(dash);
  var xs=anc[0][0],xe=anc[anc.length-1][0],first=true;
  for(var x=xs;x<=xe+0.1;x+=3){
    var k=0;while(k<anc.length-2&&x>anc[k+1][0])k++;
    var a=anc[k],b=anc[k+1];
    var y=a[1]+(b[1]-a[1])*(x-a[0])/(b[0]-a[0]);
    y+=amp*(Math.sin(x/17+seed)+0.5*Math.sin(x/6.3+seed*1.7));
    if(first){ctx.moveTo(x,y);first=false;}else ctx.lineTo(x,y);
  }
  ctx.stroke();
}
ctx.save();ctx.beginPath();ctx.rect(149,37,651,525);ctx.clip();
ctx.strokeStyle='#2a2a2a';ctx.lineWidth=1;
var dl=[[40,43],[47,53],[56.5,59],[63,71],[72.5,75],[77,88],[85,93],[94,102],[104,108],[110,118],[115,126],[124,132],[133,140],[132,150],[145,155],[150,167],[158,184],[181,193],[188,208],[208,218],[220,233],[246,242],[264,250],[275,267],[303,281]];
dl.forEach(function(d,i){poly([[149,d[0]],[800,d[1]]],0.7,i*1.3,[4,3]);});
var sl=[
[[149,325],[400,321],[573,310],[721,305],[800,310]],
[[149,357],[330,352],[429,350],[615,338],[742,325],[800,346]],
[[149,390],[352,376],[488,390],[600,388],[742,377],[800,390]],
[[149,427],[276,425],[403,427],[615,431],[800,433]],
[[149,460],[318,470],[530,460],[657,463],[800,463]],
[[149,500],[500,497],[657,492],[800,490]],
[[149,522],[400,521],[600,520],[800,518]],
[[149,543],[367,546],[571,537],[800,540]],
[[149,558],[400,559],[800,557]]];
sl.forEach(function(a,i){poly(a,1.2,i*2.1,[]);});
ctx.restore();
ctx.save();ctx.beginPath();ctx.rect(912,37,651,525);ctx.clip();
ctx.strokeStyle='#000';ctx.lineWidth=1.3;
var tl=[[38.5,38.5,38.5],[40,40,40],[41.5,41.5,41.5],[43,43,42.5],[44.5,44.5,44],[47,46,45],[51.5,51,50],[56,55,54],[61,61,59],[64.5,63.5,63],[69.5,68,67],[73,71.5,70],[77.5,77,76],[81,80,79.5],[86,84.5,83],[90.5,89,87.5],[95,94,92],
[112,97,95],[140,120,112],[160,140,133],[172,170,157],[184,186,172],[195,194,185],[206,205,198],[217,214,209],[235,228,222],[248,252,240],[254,270,262],[270,287,280],[290,298,295],[305,311,320],[320,330,335],[334,340,345],[350,354,356],[368,366,364],[380,382,375],[398,405,385],[418,424,405],[438,440,432],[457,458,452],[475,473,468],[497,492,487],[525,520,515],[552,548,545]];
tl.forEach(function(a,i){poly([[912,a[0]],[1237,a[1]],[1563,a[2]]],i<17?0.4:2.6,i*1.9,[]);});
ctx.restore();
function barbs(x0,y0,x1,y1){
  var W=x1-x0,H=y1-y0;
  function X(t){return x0+t/48*W;} function Y(p){return y0+(p-100)/900*H;}
  ctx.save();ctx.beginPath();ctx.rect(x0-1,y0,W+2,H);ctx.clip();
  ctx.strokeStyle='#111';ctx.lineWidth=1.2;ctx.setLineDash([]);
  ctx.beginPath();
  function L(a,b,c,d){ctx.moveTo(a,b);ctx.lineTo(c,d);}
  var t,x,y,s;
  y=Y(100)+1;
  for(t=18;t<=47;t++){x=X(t);
    if(t<22){L(x,y,x+9,y+16);L(x+9,y+16,x+9,y+21);}
    else if(t<29){L(x,y,x-1,y+18);L(x-1,y+18,x+4,y+17);}
    else {L(x,y,x+8,y+11);L(x+8,y+11,x+14,y+4);}
  }
  [[200,1.5,-1.5],[300,2,-1.5]].forEach(function(q){
    var ya=Y(q[0])+q[1],yb=Y(q[0])+q[2];L(x0,ya,x1,yb);
    for(var tt=0;tt<48;tt++){var xx=X(tt)+3,yy=ya+(yb-ya)*tt/48;for(var k=0;k<3;k++)L(xx+k*3,yy,xx+k*3+1.5,yy-10);}
  });
  y=Y(400)-1;
  for(t=0;t<=47;t++){x=X(t)+4;L(x+8,y,x-4,y-13);L(x-4,y-13,x+4,y-26);}
  y=Y(500)-1;
  for(t=0;t<=47;t++){x=X(t)+4;s=t<6?-7:(t<12?-3:(t<30?0:2));L(x,y,x+s,y-23);L(x+s,y-23,x+s+8,y-24);}
  y=Y(600)-2;
  for(t=0;t<=47;t++){x=X(t)+4;s=t<6?-8:(t<10?-4:0.5);L(x,y,x+s,y-22);L(x+s,y-22,x+s+(t<6?-3:5),y-20);}
  y=Y(700);
  L(x0,y,x0+27,y-7);
  for(t=2;t<=47;t++){x=X(t)+2;
    if(t<24){L(x,y,x+8,y-17);L(x+8,y-17,x+13,y-16);}
    else {L(x,y,x+11,y-10);L(x+11,y-10,x+15,y-4);}
  }
  [850,900,950].forEach(function(p){var yy=Y(p);L(x0,yy,x1,yy+1);for(var tt=1;tt<=47;tt++){var xx=X(tt)+2;L(xx,yy,xx+2,yy+12);}});
  ctx.stroke();
  ctx.restore();
}
barbs(149,638,800,1161);
barbs(912,638,1563,1161);
})();
</script>
</body></html>
